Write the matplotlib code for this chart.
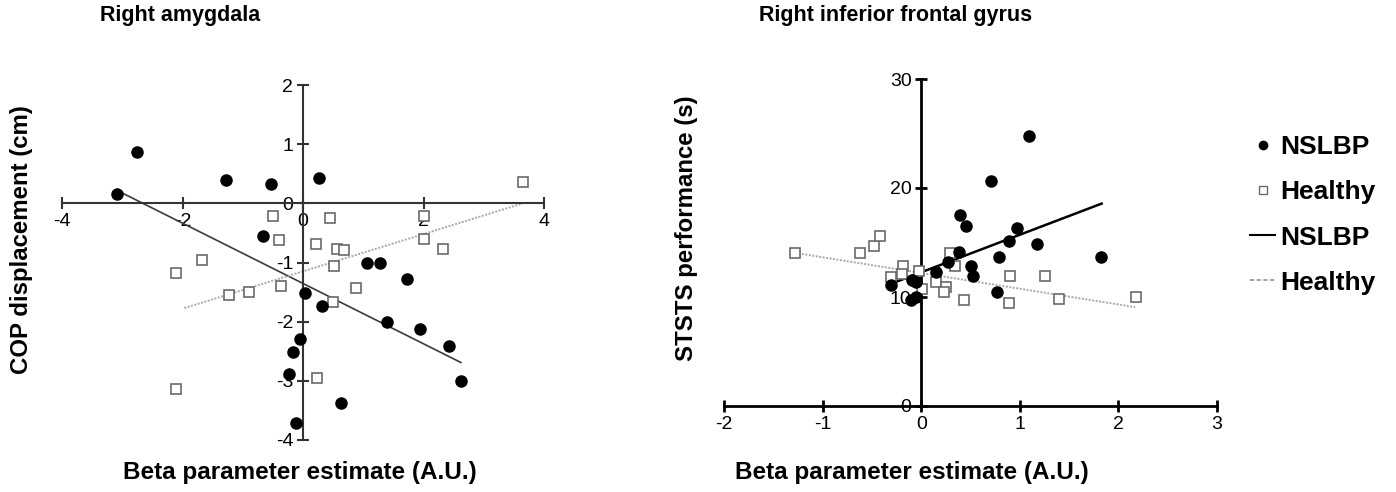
import matplotlib
matplotlib.use("Agg")
import matplotlib.pyplot as plt
from matplotlib.lines import Line2D

plt.rcParams['font.family'] = ['Liberation Sans', 'DejaVu Sans']
plt.rcParams['axes.unicode_minus'] = False

# ---------------- data: Right amygdala ----------------
amy_nslbp_x = [-3.08, -2.76, -1.27, -0.53, 0.27, -0.67, 1.06, 1.27, 0.04, 0.31,
               1.72, 1.40, 1.94, 2.43, 2.62, -0.05, -0.17, -0.24, -0.12, 0.63]
amy_nslbp_y = [0.16, 0.87, 0.39, 0.32, 0.42, -0.55, -1.00, -1.00, -1.51, -1.73,
               -1.28, -2.01, -2.13, -2.41, -3.01, -2.29, -2.51, -2.89, -3.71, -3.38]
amy_healthy_x = [-0.50, -0.40, -1.68, 0.45, 2.01, 0.22, 0.57, 0.68, 2.01, 2.32,
                 0.51, 3.65, -2.10, -1.22, -0.89, -0.37, -2.10, 0.50, 0.88, 0.23]
amy_healthy_y = [-0.22, -0.62, -0.95, -0.25, -0.22, -0.68, -0.77, -0.79, -0.60, -0.78,
                 -1.06, 0.36, -1.18, -1.55, -1.50, -1.39, -3.14, -1.67, -1.43, -2.96]
amy_fit_nslbp_x = [-3.05, 2.62]
amy_fit_nslbp_y = [0.20, -2.69]
amy_fit_healthy_x = [-1.97, 3.65]
amy_fit_healthy_y = [-1.77, 0.00]

# ---------------- data: Right inferior frontal gyrus ----------------
ifg_nslbp_x = [1.09, 0.71, 0.39, 0.45, 0.97, 0.89, 1.17, 0.38, 0.79, 1.82,
               0.27, 0.51, 0.53, 0.15, 0.77, -0.31, -0.09, -0.05, -0.10, -0.05]
ifg_nslbp_y = [24.75, 20.6, 17.5, 16.5, 16.3, 15.1, 14.9, 14.1, 13.7, 13.7,
               13.2, 12.85, 11.9, 12.3, 10.5, 11.1, 11.6, 11.4, 9.74, 9.99]
ifg_healthy_x = [-1.28, -0.62, -0.48, -0.42, 0.29, 0.34, -0.18, -0.19, -0.02, -0.31,
                 0.15, 0.01, 0.25, 0.23, 0.43, 0.90, 1.26, 0.89, 1.40, 2.18]
ifg_healthy_y = [14.05, 14.05, 14.7, 15.6, 14.05, 12.8, 12.8, 12.1, 12.4, 11.8,
                 11.4, 10.7, 10.9, 10.5, 9.7, 11.9, 11.9, 9.44, 9.83, 9.96]
ifg_fit_nslbp_x = [-0.31, 1.83]
ifg_fit_nslbp_y = [11.2, 18.57]
ifg_fit_healthy_x = [-1.28, 2.17]
ifg_fit_healthy_y = [14.05, 9.07]

amy_xticks = [-4, -2, 0, 2, 4]
amy_yticks = [-4, -3, -2, -1, 0, 1, 2]
ifg_xticks = [-2, -1, 0, 1, 2, 3]
ifg_yticks = [0, 10, 20, 30]

titles = ["Right amygdala", "Right inferior frontal gyrus"]
xlabel = "Beta parameter estimate (A.U.)"
ylabels = ["COP displacement (cm)", "STSTS performance (s)"]
legend_labels = ["NSLBP", "Healthy", "NSLBP", "Healthy"]

W, H = 1396, 492
fig = plt.figure(figsize=(W / 100, H / 100), dpi=100)


def fx(px):
    return px / W


def fy(py):
    return 1 - py / H


ax1 = fig.add_axes([fx(62), fy(440), (544 - 62) / W, (440 - 85) / H])
ax2 = fig.add_axes([fx(724), fy(406), (1217 - 724) / W, (406 - 79) / H])

sq_edge = '#6a6a6a'


def style(ax, col, lw):
    for s in ['top', 'right']:
        ax.spines[s].set_visible(False)
    ax.spines['left'].set_position(('data', 0))
    ax.spines['bottom'].set_position(('data', 0))
    for s in ['left', 'bottom']:
        ax.spines[s].set_color(col)
        ax.spines[s].set_linewidth(lw)
    ax.tick_params(direction='inout', length=8, width=lw, colors=col,
                   labelcolor='black', labelsize=14, pad=3)
    ax.patch.set_alpha(0)


# left panel
ax1.plot(amy_fit_nslbp_x, amy_fit_nslbp_y, color='#3a3a3a', lw=1.2, zorder=2)
ax1.plot(amy_fit_healthy_x, amy_fit_healthy_y, color='#a8a8a8', lw=1.4,
         linestyle=(0, (1, 0.8)), zorder=2)
ax1.plot(amy_healthy_x, amy_healthy_y, 's', ms=7.5, mfc='white', mec=sq_edge,
         mew=1.2, clip_on=False, zorder=3)
ax1.plot(amy_nslbp_x, amy_nslbp_y, 'o', ms=8, color='black', clip_on=False, zorder=4)
ax1.set_xlim(-4, 4)
ax1.set_ylim(-4, 2)
ax1.set_xticks(amy_xticks)
ax1.set_yticks(amy_yticks)
style(ax1, '#333333', 1.5)

# right panel
ax2.plot(ifg_fit_nslbp_x, ifg_fit_nslbp_y, color='black', lw=1.8, zorder=2)
ax2.plot(ifg_fit_healthy_x, ifg_fit_healthy_y, color='#a8a8a8', lw=1.4,
         linestyle=(0, (1, 0.8)), zorder=2)
ax2.plot(ifg_healthy_x, ifg_healthy_y, 's', ms=7.5, mfc='white', mec=sq_edge,
         mew=1.2, clip_on=False, zorder=3)
ax2.plot(ifg_nslbp_x, ifg_nslbp_y, 'o', ms=8, color='black', clip_on=False, zorder=4)
ax2.set_xlim(-2, 3)
ax2.set_ylim(0, 30)
ax2.set_xticks(ifg_xticks)
ax2.set_yticks(ifg_yticks)
style(ax2, 'black', 2.0)

# titles and labels
fig.text(fx(180), fy(15), titles[0], ha='center', va='center', fontsize=15.5,
         fontweight='bold')
fig.text(fx(896), fy(15), titles[1], ha='center', va='center', fontsize=15.5,
         fontweight='bold')
fig.text(fx(300), fy(473), xlabel, ha='center', va='center', fontsize=17.5,
         fontweight='bold')
fig.text(fx(912), fy(473), xlabel, ha='center', va='center', fontsize=17.5,
         fontweight='bold')
fig.text(fx(22), fy(240), ylabels[0], ha='center', va='center', rotation=90,
         fontsize=17.3, fontweight='bold')
fig.text(fx(686), fy(228), ylabels[1], ha='center', va='center', rotation=90,
         fontsize=17.3, fontweight='bold')

handles = [
    Line2D([], [], marker='o', ls='none', ms=6, color='black'),
    Line2D([], [], marker='s', ls='none', ms=6, mfc='white', mec=sq_edge, mew=1.0),
    Line2D([], [], color='black', lw=1.5),
    Line2D([], [], color='#909090', lw=1.2, linestyle=(0, (2.5, 1.5))),
]
fig.legend(handles, legend_labels, loc='center left',
           bbox_to_anchor=(fx(1250), fy(215)), frameon=False,
           prop={'weight': 'bold', 'size': 19}, handlelength=0.95,
           handletextpad=0.2, labelspacing=0.8, borderpad=0, borderaxespad=0)

fig.savefig("out.png", dpi=100)
